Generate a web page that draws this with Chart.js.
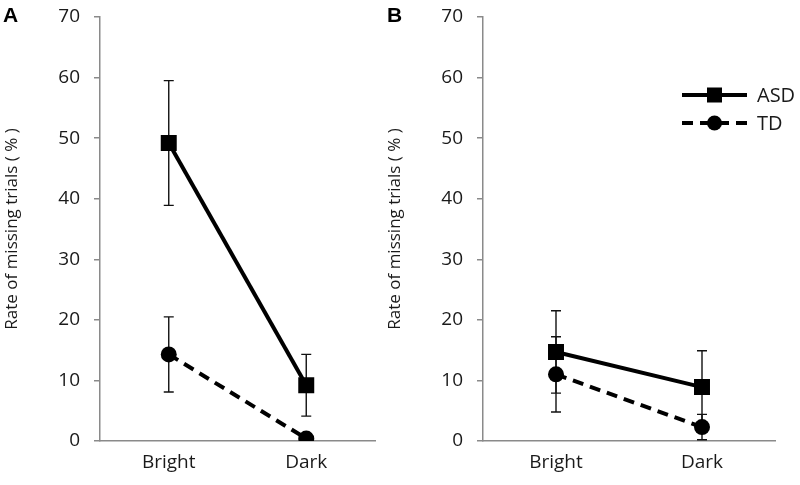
<!DOCTYPE html>
<html>
<head>
<meta charset="utf-8">
<script src="https://cdn.jsdelivr.net/npm/chart.js@4"></script>
<style>
  body { margin: 0; background: #fff; }
  #wrap { position: relative; width: 800px; height: 485px; }
  .panel { position: absolute; top: 0; height: 485px; }
  #panelA { left: 0; width: 400px; }
  #panelB { left: 383px; width: 417px; }
</style>
</head>
<body>
<div id="wrap">
  <div class="panel" id="panelA"><canvas id="chartA"></canvas></div>
  <div class="panel" id="panelB"><canvas id="chartB"></canvas></div>
</div>
<script>
const conditions = ['Bright', 'Dark'];
const yTicks = [0, 10, 20, 30, 40, 50, 60, 70];

// panel A
const asdA = [49.2, 9.2];
const asdErrA = [10.3, 5.1];
const tdA = [14.3, 0.4];
const tdErrA = [6.2, 0];

// panel B
const asdB = [14.7, 8.9];
const asdErrB = [6.8, 6.0];
const tdB = [11.0, 2.3];
const tdErrB = [6.2, 2.1];

const fontFam = "'Open Sans', 'Liberation Sans', sans-serif";
const axisGray = '#8a8a8a';
const ink = '#1a1a1a';

// whiskers, drawn under the markers
const errorBars = {
    id: 'errorBars',
    beforeDatasetsDraw(chart) {
        const ctx = chart.ctx;
        const y = chart.scales.y;
        ctx.save();
        ctx.strokeStyle = '#111';
        ctx.lineWidth = 1.4;
        chart.data.datasets.forEach((ds, i) => {
            const meta = chart.getDatasetMeta(i);
            meta.data.forEach((pt, j) => {
                const e = ds.err[j];
                if (!e) return;
                const top = y.getPixelForValue(ds.data[j] + e);
                const bot = y.getPixelForValue(Math.max(ds.data[j] - e, 0));
                ctx.beginPath();
                ctx.moveTo(pt.x, top); ctx.lineTo(pt.x, bot);
                ctx.moveTo(pt.x - 5, top); ctx.lineTo(pt.x + 5, top);
                ctx.moveTo(pt.x - 5, bot); ctx.lineTo(pt.x + 5, bot);
                ctx.stroke();
            });
        });
        ctx.restore();
    }
};

// panel letter + optional legend
const decorations = {
    id: 'decorations',
    afterDraw(chart, args, opts) {
        const ctx = chart.ctx;
        ctx.save();
        ctx.fillStyle = '#000';
        ctx.font = "bold 21px 'Liberation Sans', sans-serif";
        ctx.textBaseline = 'top';
        ctx.fillText(opts.letter, opts.letterX, 6);
        if (opts.legend) {
            const x0 = 299, x1 = 364, rows = [95, 123];
            chart.data.datasets.forEach((ds, i) => {
                const yy = rows[i];
                ctx.strokeStyle = '#000';
                ctx.lineWidth = 4;
                ctx.setLineDash(ds.borderDash || []);
                ctx.beginPath();
                ctx.moveTo(x0, yy); ctx.lineTo(x1, yy);
                ctx.stroke();
                ctx.setLineDash([]);
                ctx.fillStyle = '#000';
                const mx = (x0 + x1) / 2;
                if (ds.pointStyle === 'rect') {
                    ctx.fillRect(mx - 7.5, yy - 7.5, 15, 15);
                } else {
                    ctx.beginPath();
                    ctx.arc(mx, yy, 7.5, 0, Math.PI * 2);
                    ctx.fill();
                }
                ctx.fillStyle = ink;
                ctx.font = '20px ' + fontFam;
                ctx.textBaseline = 'middle';
                ctx.fillText(ds.label, 374, yy + 1);
            });
        }
        ctx.restore();
    }
};

function makePanel(id, asd, asdErr, td, tdErr, letter, letterX, legend) {
    return new Chart(document.getElementById(id), {
        type: 'line',
        data: {
            labels: conditions,
            datasets: [
                {
                    label: 'ASD',
                    data: asd,
                    err: asdErr,
                    borderColor: '#000',
                    backgroundColor: '#000',
                    borderWidth: 4,
                    pointStyle: 'rect',
                    pointRadius: 11.3,
                    pointBorderWidth: 0
                },
                {
                    label: 'TD',
                    data: td,
                    err: tdErr,
                    borderColor: '#000',
                    backgroundColor: '#000',
                    borderWidth: 4,
                    borderDash: [11, 7],
                    pointStyle: 'circle',
                    pointRadius: 8,
                    pointBorderWidth: 0
                }
            ]
        },
        options: {
            responsive: true,
            maintainAspectRatio: false,
            animation: false,
            layout: { padding: { top: 17, right: 25, bottom: 0, left: 0 } },
            plugins: {
                legend: { display: false },
                tooltip: { enabled: false },
                decorations: { letter: letter, letterX: letterX, legend: legend }
            },
            scales: {
                x: {
                    offset: true,
                    grid: { display: false, drawTicks: false },
                    border: { color: axisGray, width: 1.5 },
                    ticks: { color: ink, font: { family: fontFam, size: 19 }, padding: 10 },
                    afterFit(scale) { scale.height = 44; }
                },
                y: {
                    min: 0,
                    max: 70,
                    afterBuildTicks(scale) { scale.ticks = yTicks.map(v => ({ value: v })); },
                    grid: { drawOnChartArea: false, color: axisGray, tickLength: 6, lineWidth: 1.5 },
                    border: { color: axisGray, width: 1.5 },
                    ticks: { color: ink, font: { family: fontFam, size: 19 }, padding: 14 },
                    title: {
                        display: true,
                        text: 'Rate of missing trials ( % )',
                        color: ink,
                        font: { family: fontFam, size: 17 },
                        padding: { top: 2, bottom: 0 }
                    },
                    afterFit(scale) {
                        scale.width = 100;
                        scale.paddingTop = 0;
                        scale.paddingBottom = 0;
                    }
                }
            }
        },
        plugins: [errorBars, decorations]
    });
}

makePanel('chartA', asdA, asdErrA, tdA, tdErrA, 'A', 3, false);
makePanel('chartB', asdB, asdErrB, tdB, tdErrB, 'B', 4, true);
</script>
</body>
</html>
